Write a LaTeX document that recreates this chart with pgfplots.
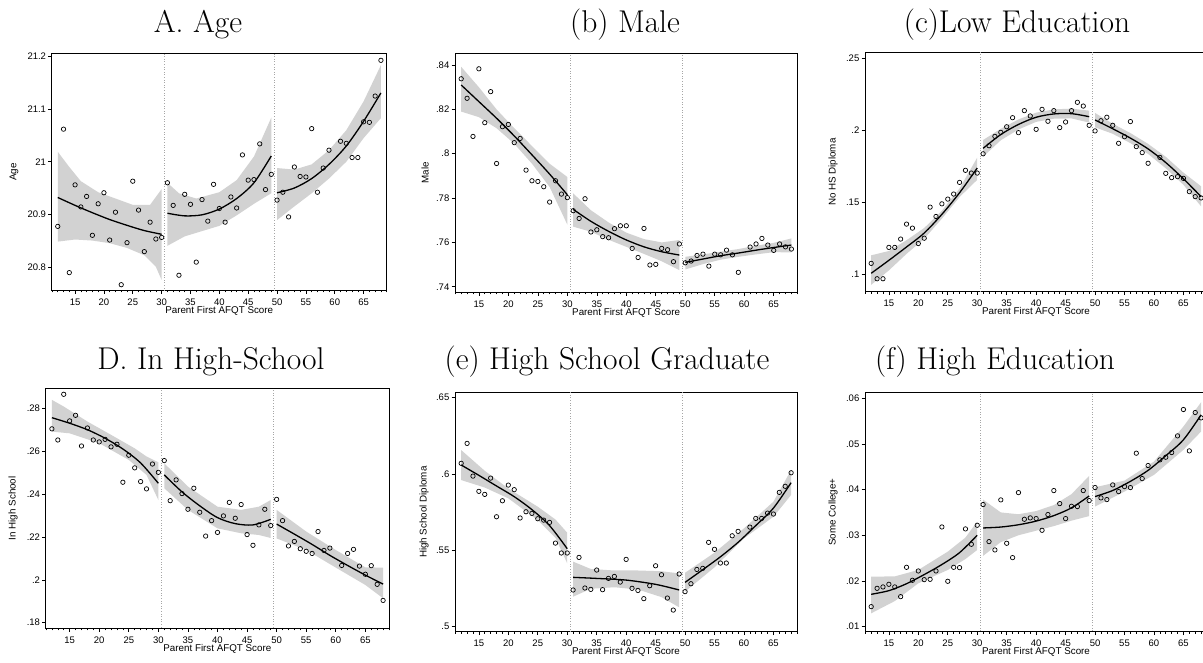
\documentclass[border=0pt]{standalone}
\usepackage{pgfplots}
\pgfplotsset{compat=1.18}
\usepackage{fontspec}
\setsansfont{Liberation Sans}
\pgfplotsset{
  panel/.style={
    scale only axis, anchor=south west,
    xmin=10.95, xmax=69,
    xtick={15,20,...,65},
    xticklabels={15,20,25,30,35,40,45,50,55,60,65},
    minor xtick={11,...,69},
    scaled x ticks=false, scaled y ticks=false,
    tick align=outside,
    xtick pos=left, ytick pos=left,
    major tick length=3.5pt, minor tick length=2pt,
    every tick/.style={black, line width=0.6pt},
    axis line style={line width=0.9pt},
    tick label style={font=\fontsize{9.5}{10}\sffamily},
    xticklabel style={anchor=center, yshift=-8pt},
    yticklabel style={anchor=east, inner sep=0pt, xshift=-2pt},
    xlabel={Parent First AFQT Score},
    every axis x label/.style={at={(axis description cs:0.5,-0.085)}, anchor=center, font=\fontsize{9.8}{10}\sffamily},
    every axis y label/.style={rotate=90, anchor=center, font=\fontsize{9.8}{10}\sffamily},
    clip=true,
  },
  bandfill/.style={fill=gray!35, draw=none, forget plot},
  fit/.style={black, line width=1.3pt, smooth, no markers},
  pts/.style={only marks, mark=o, mark size=2.2pt, mark options={black, line width=0.7pt}},
  cut/.style={gray!70, dotted, line width=0.6pt, no markers},
}
\begin{document}
\begin{tikzpicture}
\node[anchor=base, font=\fontsize{31.5}{36}\selectfont] at (198pt,630.7pt) {A. Age};
\node[anchor=base, font=\fontsize{31.5}{36}\selectfont] at (625pt,630.7pt) {(b) Male};
\node[anchor=base, font=\fontsize{31.5}{36}\selectfont] at (1017pt,630.7pt) {(c)Low Education};
\node[anchor=base, font=\fontsize{31.5}{36}\selectfont] at (211pt,293pt) {D. In High-School};
\node[anchor=base, font=\fontsize{31.5}{36}\selectfont] at (607pt,293pt) {(e) High School Graduate};
\node[anchor=base, font=\fontsize{31.5}{36}\selectfont] at (995pt,293pt) {(f) High Education};

% ---------------- A
\begin{axis}[panel, at={(51.7pt,372.5pt)}, width=335pt, height=237pt,
  ymin=20.755, ymax=21.206, ytick={20.8,20.9,21,21.1,21.2},
  yticklabels={20.8,20.9,21,21.1,21.2}, ylabel={Age},
  ylabel style={at={(axis description cs:-0.1125,0.5)}}]
\addplot[bandfill] coordinates {(12,21.019)(14,20.990)(16,20.963)(19,20.942)(22,20.930)(25,20.918)(28,20.918)(30,20.948)(30,20.775)(29,20.800)(27,20.822)(24,20.836)(21,20.845)(18,20.850)(15,20.852)(12,20.848)};
\addplot[bandfill] coordinates {(31,20.960)(33,20.940)(36,20.930)(40,20.942)(43,20.965)(46,21.010)(49,21.084)(49,20.940)(46,20.920)(43,20.898)(40,20.878)(37,20.868)(34,20.858)(31,20.840)};
\addplot[bandfill] coordinates {(50,20.988)(53,20.985)(56,20.995)(59,21.022)(62,21.060)(65,21.115)(68,21.184)(68,21.083)(65,21.045)(62,21.000)(59,20.968)(56,20.940)(53,20.915)(50,20.889)};
\addplot[cut] coordinates {(30.5,20.7)(30.5,21.3)};
\addplot[cut] coordinates {(49.5,20.7)(49.5,21.3)};
\addplot[fit] coordinates {(12,20.932)(15,20.917)(18,20.903)(21,20.890)(24,20.879)(27,20.869)(30,20.862)};
\addplot[fit] coordinates {(31,20.902)(34,20.897)(37,20.899)(40,20.910)(43,20.930)(46,20.960)(49,21.011)};
\addplot[fit] coordinates {(50,20.941)(53,20.950)(56,20.968)(59,20.995)(62,21.030)(65,21.077)(68,21.131)};
\addplot[pts] coordinates {(12,20.877)(13,21.062)(14,20.789)(15,20.956)(16,20.914)(17,20.934)(18,20.860)(19,20.920)(20,20.941)(21,20.851)(22,20.904)(23,20.766)(24,20.846)(25,20.963)(26,20.908)(27,20.829)(28,20.885)(29,20.853)(30,20.856)(31,20.960)(32,20.917)(33,20.784)(34,20.938)(35,20.919)(36,20.809)(37,20.928)(38,20.887)(39,20.957)(40,20.911)(41,20.885)(42,20.933)(43,20.912)(44,21.013)(45,20.965)(46,20.966)(47,21.034)(48,20.947)(49,20.976)(50,20.927)(51,20.942)(52,20.895)(53,20.990)(54,20.972)(55,20.971)(56,21.063)(57,20.942)(58,20.988)(59,21.022)(61,21.039)(62,21.035)(63,21.008)(64,21.008)(65,21.076)(66,21.075)(67,21.125)(68,21.193)};
\end{axis}

% ---------------- B
\begin{axis}[panel, at={(455pt,370.7pt)}, width=342.3pt, height=239pt,
  ymin=0.7375, ymax=0.8453, ytick={0.74,0.76,0.78,0.8,0.82,0.84},
  yticklabels={.74,.76,.78,.8,.82,.84}, ylabel={Male},
  ylabel style={at={(axis description cs:-0.0876,0.5)}}]
\addplot[bandfill] coordinates {(12,0.8392)(15,0.8300)(18,0.8200)(21,0.8115)(24,0.8035)(27,0.7955)(30,0.7895)(30,0.7680)(27,0.7850)(24,0.7955)(21,0.8045)(18,0.8115)(15,0.8165)(12,0.8190)};
\addplot[bandfill] coordinates {(31,0.7821)(34,0.7745)(37,0.7690)(40,0.7644)(43,0.7615)(46,0.7600)(49,0.7611)(49,0.7475)(46,0.7515)(43,0.7548)(40,0.7580)(37,0.7612)(34,0.7648)(31,0.7671)};
\addplot[bandfill] coordinates {(50,0.7535)(53,0.7546)(56,0.7558)(59,0.7570)(62,0.7585)(65,0.7598)(68,0.7618)(68,0.7555)(65,0.7556)(62,0.7546)(59,0.7535)(56,0.7522)(53,0.7502)(50,0.7478)};
\addplot[cut] coordinates {(30.5,0.7)(30.5,0.9)};
\addplot[cut] coordinates {(49.5,0.7)(49.5,0.9)};
\addplot[fit] coordinates {(12,0.8310)(15,0.8235)(18,0.8160)(21,0.8080)(24,0.7995)(27,0.7908)(30,0.7815)};
\addplot[fit] coordinates {(31,0.7749)(34,0.7695)(37,0.7650)(40,0.7611)(43,0.7580)(46,0.7558)(49,0.7543)};
\addplot[fit] coordinates {(50,0.7510)(53,0.7525)(56,0.7540)(59,0.7552)(62,0.7565)(65,0.7577)(68,0.7588)};
\addplot[pts] coordinates {(12,0.8338)(13,0.8250)(14,0.8078)(15,0.8383)(16,0.8140)(17,0.8280)(18,0.7956)(19,0.8122)(20,0.8132)(21,0.8050)(22,0.8069)(23,0.7926)(24,0.7878)(25,0.7875)(26,0.7851)(27,0.7782)(28,0.7878)(29,0.7818)(30,0.7802)(31,0.7743)(32,0.7708)(33,0.7797)(34,0.7647)(35,0.7657)(36,0.7626)(37,0.7621)(38,0.7662)(39,0.7675)(40,0.7675)(41,0.7573)(42,0.7532)(43,0.7663)(44,0.7498)(45,0.7501)(46,0.7573)(47,0.7567)(48,0.7513)(49,0.7593)(50,0.7508)(51,0.7516)(52,0.7541)(53,0.7547)(54,0.7493)(55,0.7547)(56,0.7544)(57,0.7565)(58,0.7544)(59,0.7465)(61,0.7579)(62,0.7593)(63,0.7618)(64,0.7588)(65,0.7564)(66,0.7593)(67,0.7580)(68,0.7570)};
\end{axis}

% ---------------- C
\begin{axis}[panel, at={(865pt,371.3pt)}, width=342pt, height=239pt,
  ymin=0.0877, ymax=0.2539, ytick={0.1,0.15,0.2,0.25},
  yticklabels={.1,.15,.2,.25}, ylabel={No HS Diploma},
  ylabel style={at={(axis description cs:-0.0936,0.5)}}]
\addplot[bandfill] coordinates {(12,0.1130)(15,0.1160)(18,0.1235)(21,0.1320)(24,0.1440)(27,0.1595)(30,0.1810)(30,0.1655)(27,0.1535)(24,0.1385)(21,0.1245)(18,0.1140)(15,0.1025)(12,0.0925)};
\addplot[bandfill] coordinates {(31,0.1932)(34,0.2010)(37,0.2075)(40,0.2122)(43,0.2145)(46,0.2150)(49,0.2136)(49,0.2053)(46,0.2082)(43,0.2080)(40,0.2058)(37,0.2005)(34,0.1930)(31,0.1816)};
\addplot[bandfill] coordinates {(50,0.2120)(53,0.2045)(56,0.1980)(59,0.1905)(62,0.1815)(65,0.1705)(68,0.1610)(68,0.1470)(65,0.1620)(62,0.1735)(59,0.1835)(56,0.1910)(53,0.1975)(50,0.2020)};
\addplot[cut] coordinates {(30.5,0.05)(30.5,0.3)};
\addplot[cut] coordinates {(49.5,0.05)(49.5,0.3)};
\addplot[fit] coordinates {(12,0.1005)(15,0.1095)(18,0.1188)(21,0.1285)(24,0.1415)(27,0.1565)(30,0.1737)};
\addplot[fit] coordinates {(31,0.1874)(34,0.1970)(37,0.2040)(40,0.2090)(43,0.2113)(46,0.2115)(49,0.2094)};
\addplot[fit] coordinates {(50,0.2071)(53,0.2010)(56,0.1945)(59,0.1870)(62,0.1775)(65,0.1662)(68,0.1538)};
\addplot[pts] coordinates {(12,0.1074)(13,0.0967)(14,0.0967)(15,0.1185)(16,0.1185)(17,0.1243)(18,0.1347)(19,0.1319)(20,0.1212)(21,0.1249)(22,0.1465)(23,0.1400)(24,0.1488)(25,0.1521)(26,0.1556)(27,0.1637)(28,0.1721)(29,0.1702)(30,0.1702)(31,0.1836)(32,0.1892)(33,0.1957)(34,0.1985)(35,0.2024)(36,0.2087)(37,0.1983)(38,0.2136)(39,0.2099)(40,0.2006)(41,0.2145)(42,0.2062)(43,0.2136)(44,0.2018)(45,0.2057)(46,0.2136)(47,0.2194)(48,0.2168)(49,0.2034)(50,0.1995)(51,0.2066)(52,0.2090)(53,0.2034)(54,0.1909)(55,0.1955)(56,0.2060)(57,0.1886)(58,0.1844)(59,0.1770)(61,0.1811)(62,0.1700)(63,0.1670)(64,0.1677)(65,0.1665)(66,0.1573)(67,0.1538)(68,0.1529)};
\end{axis}

% ---------------- D
\begin{axis}[panel, at={(45.7pt,34.7pt)}, width=343.3pt, height=240pt,
  ymin=0.1774, ymax=0.2893, ytick={0.18,0.2,0.22,0.24,0.26,0.28},
  yticklabels={.18,.2,.22,.24,.26,.28}, ylabel={In High School},
  ylabel style={at={(axis description cs:-0.0953,0.5)}}]
\addplot[bandfill] coordinates {(12,0.2839)(14,0.2808)(18,0.2738)(22,0.2676)(26,0.2613)(28,0.2575)(30,0.2548)(30,0.2372)(28,0.2489)(25,0.2559)(20,0.2637)(15,0.2683)(12,0.2691)};
\addplot[bandfill] coordinates {(31,0.2543)(35,0.2435)(40,0.2341)(44,0.2326)(47,0.2341)(49,0.2372)(49,0.2195)(47,0.2209)(44,0.2217)(40,0.2240)(35,0.2326)(31,0.2427)};
\addplot[bandfill] coordinates {(50,0.2326)(55,0.2225)(60,0.2139)(65,0.2058)(68,0.2057)(68,0.1914)(65,0.1976)(60,0.2057)(55,0.2139)(50,0.2193)};
\addplot[cut] coordinates {(30.5,0.15)(30.5,0.3)};
\addplot[cut] coordinates {(49.5,0.15)(49.5,0.3)};
\addplot[fit] coordinates {(12,0.2756)(15,0.2730)(18,0.2700)(21,0.2660)(24,0.2610)(27,0.2545)(30,0.2450)};
\addplot[fit] coordinates {(31,0.2489)(34,0.2410)(37,0.2345)(40,0.2290)(43,0.2262)(46,0.2256)(49,0.2282)};
\addplot[fit] coordinates {(50,0.2260)(53,0.2213)(56,0.2165)(59,0.2114)(62,0.2067)(65,0.2022)(68,0.1980)};
\addplot[pts] coordinates {(12,0.2704)(13,0.2652)(14,0.2865)(15,0.2741)(16,0.2767)(17,0.2624)(18,0.2708)(19,0.2652)(20,0.2643)(21,0.2655)(22,0.2620)(23,0.2632)(24,0.2455)(25,0.2581)(26,0.2522)(27,0.2458)(28,0.2424)(29,0.2540)(30,0.2501)(31,0.2556)(32,0.2369)(33,0.2466)(34,0.2402)(35,0.2329)(36,0.2427)(37,0.2315)(38,0.2204)(39,0.2276)(40,0.2221)(41,0.2298)(42,0.2361)(43,0.2287)(44,0.2351)(45,0.2211)(46,0.2161)(47,0.2256)(48,0.2329)(49,0.2253)(50,0.2375)(51,0.2276)(52,0.2158)(53,0.2179)(54,0.2145)(55,0.2133)(56,0.2123)(57,0.2225)(58,0.2137)(59,0.2148)(61,0.2067)(62,0.2123)(63,0.2142)(64,0.2064)(65,0.2026)(66,0.2066)(67,0.1979)(68,0.1904)};
\end{axis}

% ---------------- E
\begin{axis}[panel, at={(455pt,31.3pt)}, width=342pt, height=239pt,
  ymin=0.4963, ymax=0.6533, ytick={0.5,0.55,0.6,0.65},
  yticklabels={.5,.55,.6,.65}, ylabel={High School Diploma},
  ylabel style={at={(axis description cs:-0.0906,0.5)}}]
\addplot[bandfill] coordinates {(12,0.6156)(16,0.6020)(20,0.5904)(25,0.5784)(28,0.5700)(30,0.5613)(30,0.5412)(28,0.5580)(25,0.5696)(20,0.5839)(16,0.5910)(12,0.5959)};
\addplot[bandfill] coordinates {(31,0.5423)(34,0.5375)(38,0.5365)(42,0.5365)(46,0.5360)(49,0.5346)(49,0.5123)(46,0.5190)(42,0.5240)(38,0.5255)(34,0.5245)(31,0.5193)};
\addplot[bandfill] coordinates {(50,0.5350)(55,0.5482)(60,0.5642)(65,0.5817)(68,0.6025)(68,0.5861)(65,0.5718)(60,0.5576)(55,0.5386)(50,0.5226)};
\addplot[cut] coordinates {(30.5,0.45)(30.5,0.7)};
\addplot[cut] coordinates {(49.5,0.45)(49.5,0.7)};
\addplot[fit] coordinates {(12,0.6058)(15,0.5990)(18,0.5920)(21,0.5850)(24,0.5765)(27,0.5660)(30,0.5508)};
\addplot[fit] coordinates {(31,0.5320)(35,0.5313)(40,0.5302)(45,0.5274)(49,0.5237)};
\addplot[fit] coordinates {(50,0.5287)(53,0.5370)(56,0.5455)(59,0.5550)(62,0.5660)(65,0.5775)(68,0.5942)};
\addplot[pts] coordinates {(12,0.6069)(13,0.6200)(14,0.5985)(15,0.5885)(16,0.5865)(17,0.5972)(18,0.5718)(19,0.5823)(20,0.5926)(21,0.5896)(22,0.5710)(23,0.5751)(24,0.5740)(25,0.5705)(26,0.5696)(27,0.5681)(28,0.5545)(29,0.5480)(30,0.5480)(31,0.5237)(32,0.5451)(33,0.5250)(34,0.5241)(35,0.5368)(36,0.5239)(37,0.5313)(38,0.5326)(39,0.5289)(40,0.5438)(41,0.5248)(42,0.5234)(43,0.5180)(44,0.5265)(45,0.5396)(46,0.5337)(47,0.5184)(48,0.5105)(49,0.5342)(50,0.5226)(51,0.5278)(52,0.5372)(53,0.5379)(54,0.5550)(55,0.5504)(56,0.5414)(57,0.5414)(58,0.5593)(59,0.5622)(61,0.5650)(62,0.5707)(63,0.5707)(64,0.5742)(65,0.5736)(66,0.5878)(67,0.5918)(68,0.6007)};
\end{axis}

% ---------------- F
\begin{axis}[panel, at={(865pt,31.3pt)}, width=342pt, height=239pt,
  ymin=0.0089, ymax=0.0612, ytick={0.01,0.02,0.03,0.04,0.05,0.06},
  yticklabels={.01,.02,.03,.04,.05,.06}, ylabel={Some College+},
  ylabel style={at={(axis description cs:-0.0936,0.5)}}]
\addplot[bandfill] coordinates {(12,0.02095)(16,0.02100)(20,0.02241)(25,0.02642)(28,0.02950)(30,0.0330)(30,0.02679)(28,0.02480)(25,0.02241)(20,0.01949)(16,0.01560)(12,0.01292)};
\addplot[bandfill] coordinates {(31,0.0378)(34,0.0350)(37,0.0346)(40,0.0353)(43,0.0366)(46,0.0390)(49,0.0430)(49,0.0342)(46,0.0332)(43,0.0320)(40,0.0310)(37,0.0300)(34,0.0285)(31,0.0255)};
\addplot[bandfill] coordinates {(50,0.04051)(55,0.04197)(60,0.04613)(65,0.0538)(68,0.05912)(68,0.0527)(65,0.04869)(60,0.04321)(55,0.03956)(50,0.03628)};
\addplot[cut] coordinates {(30.5,0.0)(30.5,0.07)};
\addplot[cut] coordinates {(49.5,0.0)(49.5,0.07)};
\addplot[fit] coordinates {(12,0.01708)(15,0.01788)(18,0.01940)(21,0.02140)(24,0.02360)(27,0.02620)(30,0.03000)};
\addplot[fit] coordinates {(31,0.0316)(34,0.0318)(37,0.0323)(40,0.0331)(43,0.0343)(46,0.0360)(49,0.0386)};
\addplot[fit] coordinates {(50,0.03847)(53,0.0398)(56,0.0418)(59,0.0442)(62,0.0474)(65,0.0509)(68,0.05635)};
\addplot[pts] coordinates {(12,0.01438)(13,0.01839)(14,0.01869)(15,0.01927)(16,0.01869)(17,0.01657)(18,0.02299)(19,0.02015)(20,0.02219)(21,0.02029)(22,0.02036)(23,0.02219)(24,0.03182)(25,0.01993)(26,0.02299)(27,0.02292)(28,0.03139)(29,0.02803)(30,0.03219)(31,0.03672)(32,0.02861)(33,0.02679)(34,0.03774)(35,0.02825)(36,0.02511)(37,0.03934)(38,0.03350)(39,0.03380)(40,0.03365)(41,0.03109)(42,0.03453)(43,0.03978)(44,0.03693)(45,0.03365)(46,0.03635)(47,0.03628)(48,0.03978)(49,0.03759)(50,0.04044)(51,0.03818)(52,0.03781)(53,0.04102)(54,0.03956)(55,0.04066)(56,0.04044)(57,0.04796)(58,0.04241)(59,0.04526)(61,0.04650)(62,0.04708)(63,0.04810)(64,0.05175)(65,0.05752)(66,0.04847)(67,0.05686)(68,0.05569)};
\end{axis}
\pgfresetboundingbox
\useasboundingbox (0pt,0pt) rectangle (1203pt,663pt);
\end{tikzpicture}
\end{document}
